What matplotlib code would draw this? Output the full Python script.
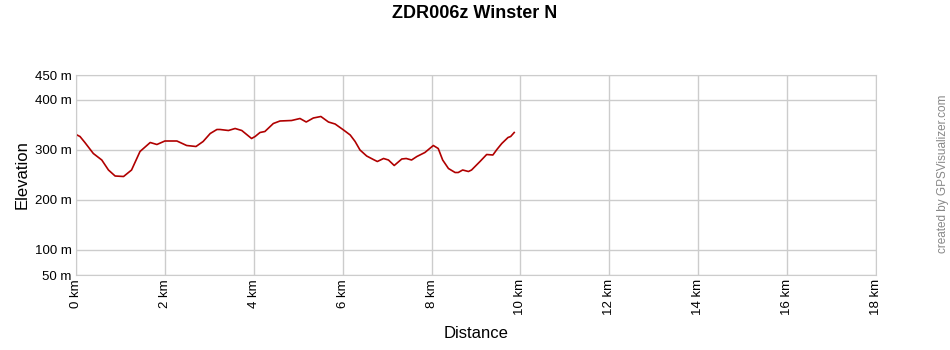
import matplotlib
matplotlib.use("Agg")
import matplotlib.pyplot as plt

plt.rcParams['font.family'] = ['Liberation Sans', 'DejaVu Sans']

title = "ZDR006z Winster N"
dist_km = [0.0, 0.09, 0.2, 0.39, 0.58, 0.73, 0.88, 1.07, 1.25, 1.44, 1.67, 1.82, 2.0, 2.27,
           2.49, 2.7, 2.86, 3.02, 3.17, 3.24, 3.43, 3.58, 3.73, 3.95, 4.03, 4.14, 4.25, 4.44,
           4.59, 4.85, 5.04, 5.18, 5.34, 5.51, 5.68, 5.83, 6.02, 6.17, 6.28, 6.39, 6.54, 6.69,
           6.78, 6.92, 7.03, 7.16, 7.33, 7.43, 7.55, 7.67, 7.85, 8.04, 8.15, 8.25, 8.38, 8.53,
           8.6, 8.7, 8.83, 8.9, 9.09, 9.24, 9.38, 9.47, 9.58, 9.72, 9.78, 9.86]
elev_m = [331, 327, 315, 293, 280, 260, 248, 247, 260, 297, 315, 311, 318, 318,
          309, 307, 317, 333, 341, 341, 339, 343, 339, 323, 327, 335, 337, 353,
          358, 359, 363, 356, 364, 367, 356, 352, 340, 330, 317, 300, 288, 281,
          277, 283, 280, 269, 282, 283, 280, 287, 295, 309, 303, 280, 263, 255,
          255, 260, 257, 260, 277, 291, 290, 301, 313, 325, 327, 335]
x_ticks = [0, 2, 4, 6, 8, 10, 12, 14, 16, 18]
x_tick_labels = [f"{v} km" for v in x_ticks]
y_ticks = [50, 100, 200, 300, 400, 450]
y_tick_labels = [f"{v} m" for v in y_ticks]

fig = plt.figure(figsize=(9.5, 3.5), dpi=100)
ax = fig.add_axes([76/950, 1-275/350, 800/950, 200/350])
ax.plot(dist_km, elev_m, color='#b00000', lw=1.2)
ax.set_xlim(0, 18)
ax.set_ylim(50, 450)
ax.set_xticks(x_ticks)
ax.set_xticklabels(x_tick_labels, rotation=90, fontsize=9.5)
ax.set_yticks(y_ticks)
ax.set_yticklabels(y_tick_labels, fontsize=9.5)
ax.tick_params(length=0, pad=3)
ax.grid(True, color='#cccccc', lw=1)
for s in ax.spines.values():
    s.set_color('#cccccc')
ax.set_axisbelow(True)
ax.set_xlabel("Distance", fontsize=12, labelpad=8)
ax.set_ylabel("Elevation", fontsize=12, labelpad=4)
fig.text(0.5, 1-14/350, title, ha='center', va='center', fontsize=13, fontweight='bold')
fig.text(943/950, 1-174/350, "created by GPSVisualizer.com", rotation=90, ha='center', va='center',
         fontsize=8.5, color='#888888')
fig.savefig("out.png", dpi=100)
